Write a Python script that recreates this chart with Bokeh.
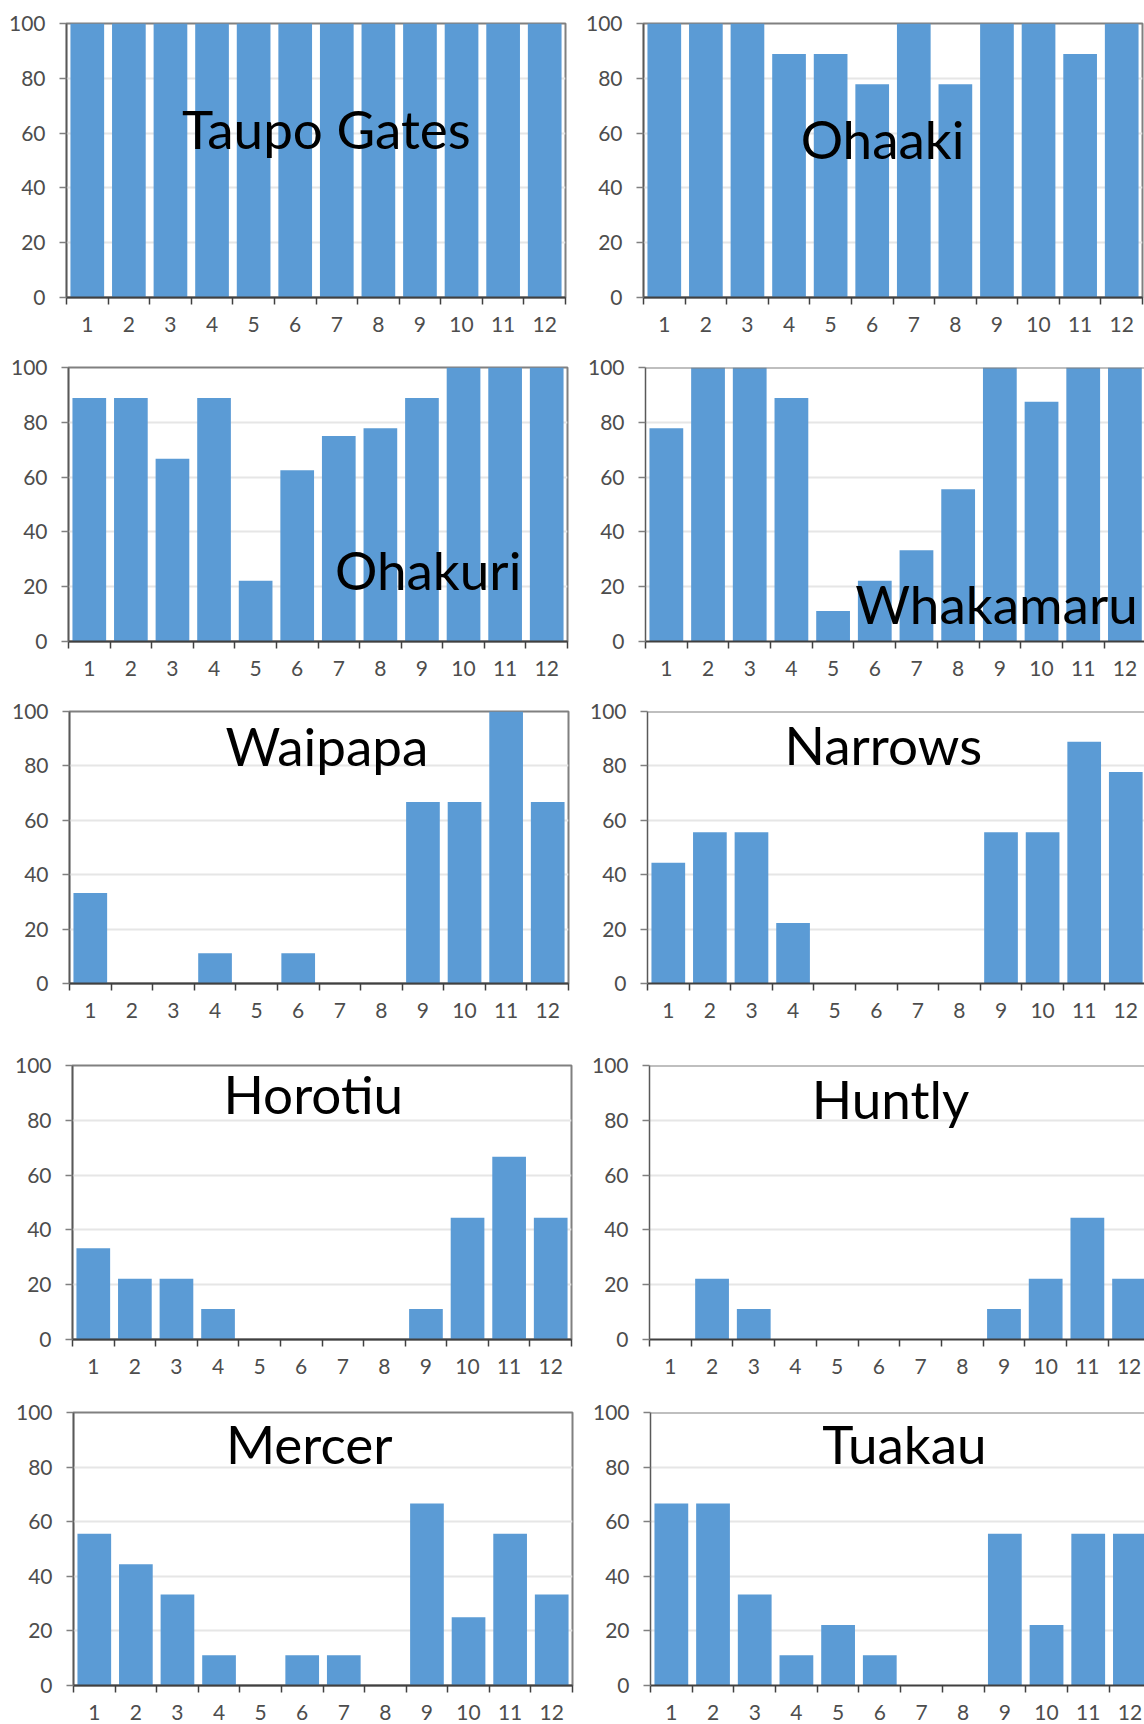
from bokeh.plotting import figure
from bokeh.models import FixedTicker, Label, Span, Range1d, ColumnDataSource
from bokeh.layouts import column, row
from bokeh.embed import file_html
from bokeh.resources import INLINE

# ---------------- data ----------------
months = [1, 2, 3, 4, 5, 6, 7, 8, 9, 10, 11, 12]
month_labels = ["1", "2", "3", "4", "5", "6", "7", "8", "9", "10", "11", "12"]
y_ticks = [0, 20, 40, 60, 80, 100]

station_names = ["Taupo Gates", "Ohaaki", "Ohakuri", "Whakamaru", "Waipapa",
                 "Narrows", "Horotiu", "Huntly", "Mercer", "Tuakau"]

taupo_gates = [100, 100, 100, 100, 100, 100, 100, 100, 100, 100, 100, 100]
ohaaki = [100, 100, 100, 88.9, 88.9, 77.8, 100, 77.8, 100, 100, 88.9, 100]
ohakuri = [88.9, 88.9, 66.7, 88.9, 22.2, 62.5, 75, 77.8, 88.9, 100, 100, 100]
whakamaru = [77.8, 100, 100, 88.9, 11.1, 22.2, 33.3, 55.6, 100, 87.5, 100, 100]
waipapa = [33.3, 0, 0, 11.1, 0, 11.1, 0, 0, 66.7, 66.7, 100, 66.7]
narrows = [44.4, 55.6, 55.6, 22.2, 0, 0, 0, 0, 55.6, 55.6, 88.9, 77.8]
horotiu = [33.3, 22.2, 22.2, 11.1, 0, 0, 0, 0, 11.1, 44.4, 66.7, 44.4]
huntly = [0, 22.2, 11.1, 0, 0, 0, 0, 0, 11.1, 22.2, 44.4, 22.2]
mercer = [55.6, 44.4, 33.3, 11.1, 0, 11.1, 11.1, 0, 66.7, 25, 55.6, 33.3]
tuakau = [66.7, 66.7, 33.3, 11.1, 22.2, 11.1, 0, 0, 55.6, 22.2, 55.6, 55.6]

station_values = [taupo_gates, ohaaki, ohakuri, whakamaru, waipapa,
                  narrows, horotiu, huntly, mercer, tuakau]

# ---------------- layout (positions / sizes only) ----------------
row_heights = [340, 350, 350, 340, 344]
LEFT_W, RIGHT_W = 575, 569
# (border_left, frame_w, border_top, frame_h, x_end, label_x, label_y, cut_right)
panel_layout = [
    (66, 499, 23, 274, 12.5, 6.75, 61.6, False),
    (68, 499, 23, 274, 12.5, 6.25, 58.0, False),
    (68, 499, 27, 274, 12.5, 9.15, 26.2, False),
    (70, 499, 27, 275, 12.47, 8.92, 13.7, True),
    (69, 499, 20, 273, 12.5, 6.69, 87.5, False),
    (72, 497, 21, 273, 12.45, 6.17, 87.9, True),
    (72, 499, 24, 275, 12.5, 6.29, 89.9, False),
    (74, 495, 25, 275, 12.37, 6.28, 88.1, True),
    (73, 499, 32, 273, 12.5, 6.17, 88.5, False),
    (75, 494, 32, 273, 12.35, 6.59, 88.7, True),
]

BAR = "#5B9BD5"
FONT = "Lato"


def make_panel(idx):
    name = station_names[idx]
    vals = station_values[idx]
    bl, fw, bt, fh, x_end, lx, ly, cut = panel_layout[idx]
    fig_w = LEFT_W if idx % 2 == 0 else RIGHT_W
    fig_h = row_heights[idx // 2]
    p = figure(width=fig_w, height=fig_h,
               x_range=Range1d(0.5, x_end), y_range=Range1d(0, 100),
               output_backend="svg", toolbar_location=None,
               min_border_left=bl, min_border_right=fig_w - bl - fw,
               min_border_top=bt, min_border_bottom=fig_h - bt - fh)
    src = ColumnDataSource(dict(x=months, top=vals))
    p.vbar(x="x", top="top", width=0.81, source=src,
           fill_color=BAR, line_color=None)

    p.background_fill_color = "white"
    p.border_fill_color = "white"
    if cut:
        p.outline_line_color = None
        p.add_layout(Span(location=100, dimension="width",
                          line_color="#808080", line_width=2))
    else:
        p.outline_line_color = "#808080"
        p.outline_line_width = 2

    # x axis: labels at month centres, ticks between months
    xa = p.xaxis[0]
    xa.ticker = FixedTicker(ticks=months,
                            minor_ticks=[m - 0.5 for m in months] + [12.5])
    xa.major_label_overrides = {m: lab for m, lab in zip(months, month_labels)}
    xa.major_tick_out = 0
    xa.major_tick_in = 0
    xa.minor_tick_out = 7
    xa.minor_tick_in = 0
    xa.minor_tick_line_color = "#404040"
    xa.minor_tick_line_width = 1.5
    xa.axis_line_color = "#404040"
    xa.axis_line_width = 2
    xa.major_label_standoff = 12
    xa.major_label_text_font = FONT
    xa.major_label_text_font_size = "21px"
    xa.major_label_text_color = "#4d4d4d"

    ya = p.yaxis[0]
    ya.ticker = FixedTicker(ticks=y_ticks, minor_ticks=[])
    ya.major_tick_out = 7
    ya.major_tick_in = 0
    ya.major_tick_line_color = "#808080"
    ya.major_tick_line_width = 1.5
    ya.axis_line_color = "#595959"
    ya.axis_line_width = 1.5
    ya.major_label_standoff = 14
    ya.major_label_text_font = FONT
    ya.major_label_text_font_size = "21px"
    ya.major_label_text_color = "#4d4d4d"

    p.xgrid.visible = False
    p.ygrid.ticker = FixedTicker(ticks=[20, 40, 60, 80])
    p.ygrid.grid_line_color = "#e6e6e6"
    p.ygrid.grid_line_width = 2

    p.add_layout(Label(x=lx, y=ly, text=name, text_font=FONT,
                       text_font_size="53px", text_color="black",
                       text_align="center", text_baseline="alphabetic"))
    return p


panels = [make_panel(i) for i in range(len(station_names))]
layout = column(*[row(panels[2 * r], panels[2 * r + 1], spacing=0)
                  for r in range(5)], spacing=0)

open("out.html", "w").write(file_html(layout, INLINE))
